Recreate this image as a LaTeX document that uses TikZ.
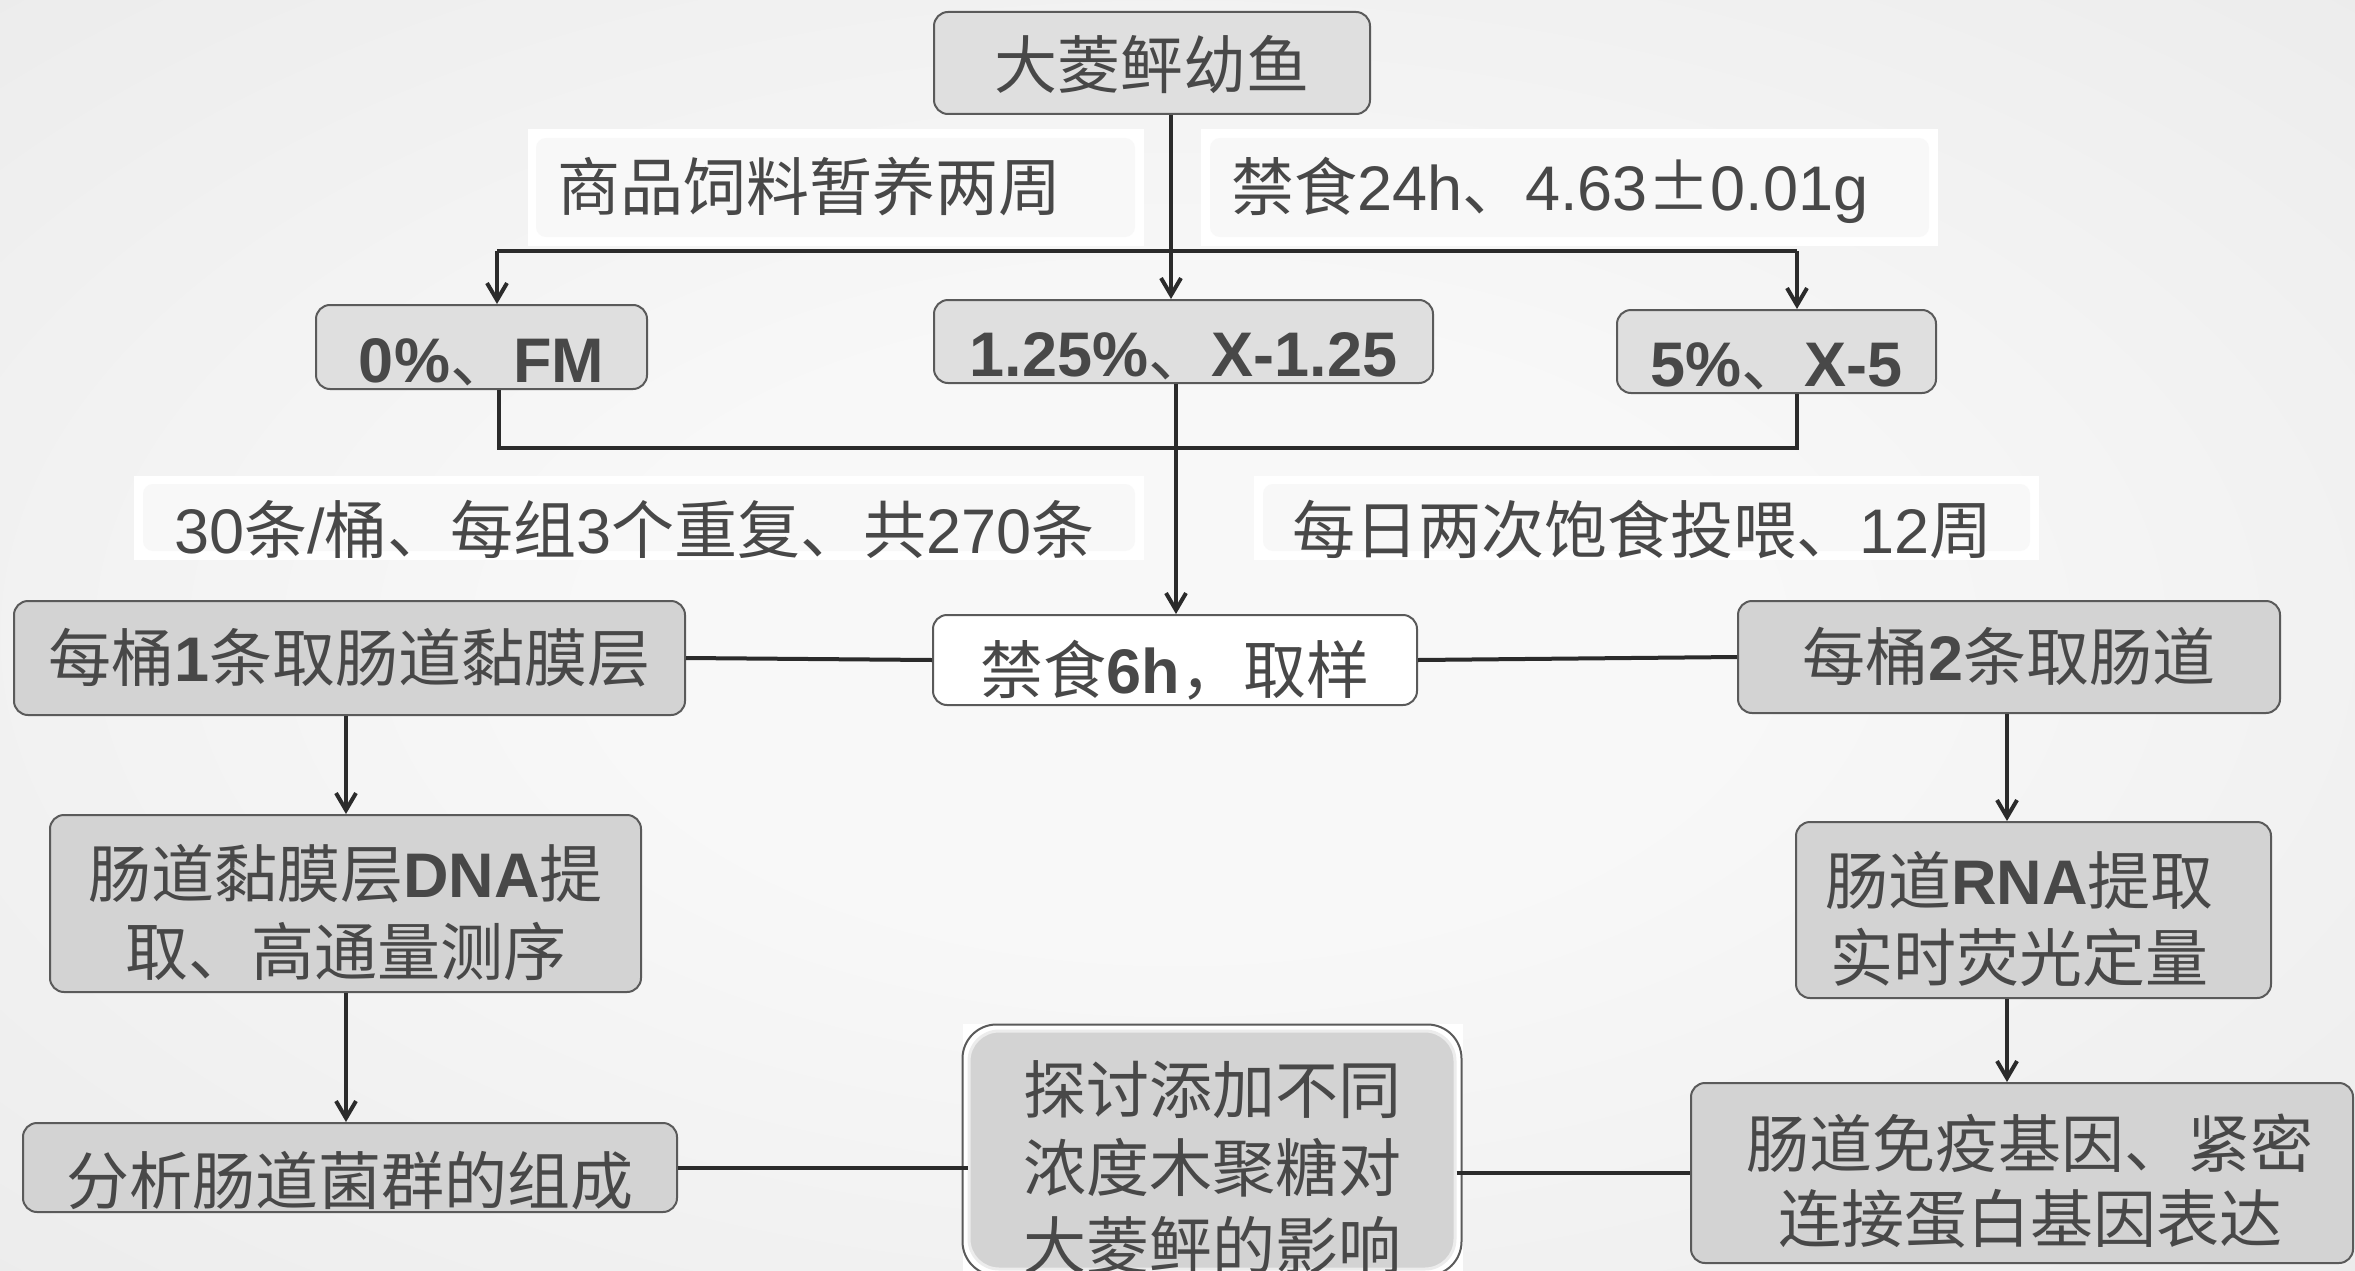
\documentclass[tikz,border=0pt]{standalone}
\usepackage{fontspec}
\setmainfont{Liberation Sans}
\newfontfamily\cjk{Noto Sans CJK SC}
\usetikzlibrary{arrows.meta,calc}
\definecolor{bgin}{HTML}{F8F8F8}
\definecolor{bgout}{HTML}{DADADA}
\definecolor{txt}{HTML}{484848}
\definecolor{bord}{HTML}{5A5A5A}
\definecolor{lnc}{HTML}{2B2B2B}
\definecolor{fillA}{HTML}{DFDFDF}
\definecolor{fillB}{HTML}{D3D3D3}
\definecolor{labin}{HTML}{F8F8F8}
\definecolor{dblc}{HTML}{ECECEC}
\pgfdeclareradialshading{bgsh}{\pgfpoint{0bp}{0bp}}{color(0bp)=(bgin);color(12bp)=(bgin);color(72bp)=(bgout)}
\newcommand\zh[1]{{\cjk #1}}
\newcommand\bx[1]{{\bfseries #1}}
\tikzset{
  box/.style={draw=bord, line width=2pt, rounded corners=14pt, inner sep=0pt,
    text=txt, font=\fontsize{63}{78}\selectfont, anchor=base, align=center},
  lightbox/.style={box, fill=fillA},
  darkbox/.style={box, fill=fillB},
  whitebox/.style={box, fill=white},
  lab/.style={inner sep=0pt, text=txt, font=\fontsize{63}{78}\selectfont, anchor=base west},
  ln/.style={draw=lnc, line width=4pt},
  arr/.style={ln, -{Straight Barb[length=17pt,width=20pt]}},
}
\begin{document}
\begin{tikzpicture}[x=1pt,y=-1pt]
\useasboundingbox (0,0) rectangle (2355,1271);
\begin{scope}
\clip (0,0) rectangle (2355,1271);
\shade[shading=bgsh] (0,0) rectangle (2355,1271);

% label backgrounds
\fill[white] (528,129) rectangle (1144,246);
\fill[labin, rounded corners=10pt] (536,138) rectangle (1135,237);
\fill[white] (1201,129) rectangle (1938,246);
\fill[labin, rounded corners=10pt] (1210,138) rectangle (1929,237);
\fill[white] (134,476) rectangle (1144,560);
\fill[labin, rounded corners=10pt] (143,484) rectangle (1135,551);
\fill[white] (1254,476) rectangle (2039,560);
\fill[labin, rounded corners=10pt] (1263,484) rectangle (2030,551);
\fill[white] (963,1024) rectangle (1463,1280);

% labels
\node[lab] (lab1) at (557,210) {\zh{商品饲料暂养两周}};
\node[lab] (lab2) at (1231,210) {\zh{禁食}24h\zh{、}4.63\zh{±}0.01g};
\node[lab] (lab3) at (174,553) {30\zh{条}/\zh{桶、每组}3\zh{个重复、共}270\zh{条}};
\node[lab] (lab4) at (1292,553) {\zh{每日两次饱食投喂、}12\zh{周}};

% boxes
\node[lightbox, minimum width=436pt, text height=77pt, text depth=25pt] (top) at (1152,89) {\zh{大菱鲆幼鱼}};
\node[lightbox, minimum width=331pt, text height=77pt, text depth=7pt] (L1) at (481.5,382) {\bx{0\%}\zh{、}\bx{FM}};
\node[lightbox, minimum width=499pt, text height=76pt, text depth=7pt] (M) at (1183.5,376) {\bx{1.25\%}\zh{、}\bx{X-1.25}};
\node[lightbox, minimum width=319pt, text height=76pt, text depth=7pt] (R) at (1776.5,386) {\bx{5\%}\zh{、}\bx{X-5}};
\node[whitebox, minimum width=484pt, text height=78pt, text depth=12pt] (S) at (1175,693) {\zh{禁食}\bx{6h}\zh{，取样}};
\node[darkbox, minimum width=671pt, text height=80pt, text depth=34pt] (B1) at (349.5,681) {\zh{每桶}\bx{1}\zh{条取肠道黏膜层}};
\node[darkbox, minimum width=542pt, text height=79pt, text depth=33pt] (B2) at (2009,680) {\zh{每桶}\bx{2}\zh{条取肠道}};
\node[darkbox, minimum width=591pt, text height=160pt, text depth=17pt] (DNA) at (345.5,975) {\zh{肠道黏膜层}\bx{DNA}\zh{提}\\\zh{取、高通量测序}};
\node[darkbox, minimum width=654pt, text height=81pt, text depth=8pt] (ANA) at (350,1204) {\zh{分析肠道菌群的组成}};
\node[darkbox, minimum width=475pt, text height=159pt, text depth=17pt, font=\fontsize{63}{77}\selectfont] (RNA) at (2033.5,981) {\zh{肠道}\bx{RNA}\zh{提取}\kern28pt\\\zh{实时荧光定量}\kern28pt};
\node[darkbox, minimum width=662pt, text height=159pt, text depth=21pt, font=\fontsize{63}{75}\selectfont] (IM) at (2022,1242) {\kern16pt\zh{肠道免疫基因、紧密}\\\kern16pt\zh{连接蛋白基因表达}};
\node[darkbox, draw=dblc, line width=3pt, rounded corners=30pt, minimum width=486pt, text height=238pt, text depth=-6pt] (C) at (1212,1269) {\zh{探讨添加不同}\\\zh{浓度木聚糖对}\\\zh{大菱鲆的影响}};
\draw[bord, line width=2pt, rounded corners=34pt] ($(C.north west)+(-5,-5)$) rectangle ($(C.south east)+(5,5)$);

% connectors
\coordinate (sp) at (1171,251);
\coordinate (bl) at (497,251);
\coordinate (br) at (1797,251);
\draw[ln] (top.south -| sp) -- (sp);
\draw[ln] (bl) -- (br);
\draw[arr] (bl) -- (bl |- L1.north);
\draw[arr] (sp) -- (sp |- M.north);
\draw[arr] (br) -- (br |- R.north);
\coordinate (jl) at (499,448);
\coordinate (jr) at (1797,448);
\coordinate (jm) at (1176,448);
\draw[ln] (jl |- L1.south) -- (jl) -- (jr) -- (jr |- R.south);
\draw[arr] (jm |- M.south) -- (jm |- S.north);
\draw[ln] (B1.east) -- (S.west);
\draw[ln] (S.east) -- (B2.west);
\coordinate (la) at (346,0);
\draw[arr] (B1.south -| la) -- (DNA.north -| la);
\draw[arr] (DNA.south -| la) -- (ANA.north -| la);
\draw[ln] (ANA.east) -- (ANA.east -| C.west);
\draw[ln] (IM.west -| C.east) -- (IM.west);
\coordinate (ra) at (2007,0);
\draw[arr] (B2.south -| ra) -- (RNA.north -| ra);
\draw[arr] (RNA.south -| ra) -- (IM.north -| ra);
\end{scope}
\end{tikzpicture}
\end{document}
